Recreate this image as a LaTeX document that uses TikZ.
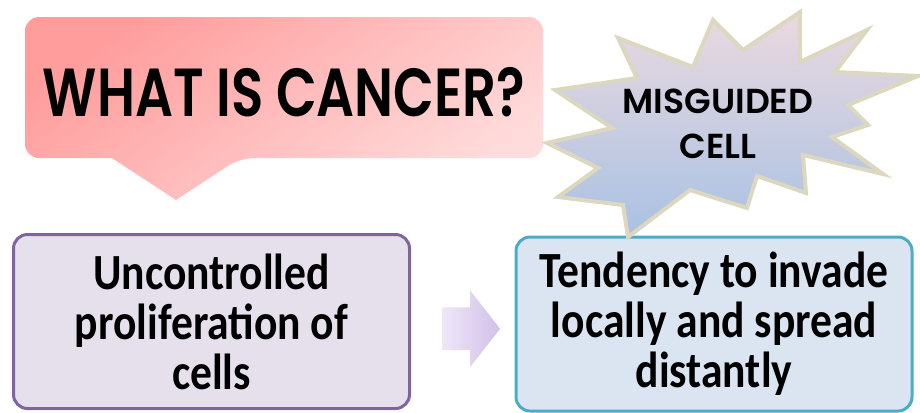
\documentclass[tikz,border=0pt]{standalone}
\usepackage{fontspec}
\setmainfont{Carlito}
\newfontfamily\gothic{Poppins}[BoldFont={* SemiBold}]
\usetikzlibrary{arrows.meta, positioning, calc, shapes.arrows}
\definecolor{pinkdk}{HTML}{FF9C9C}
\definecolor{pinklt}{HTML}{FFDCDC}
\definecolor{starrim}{HTML}{DCD7BF}
\definecolor{startop}{HTML}{EAD9E0}
\definecolor{starbot}{HTML}{A9C1E2}
\definecolor{plum}{HTML}{8064A2}
\definecolor{lilac}{HTML}{E5E0EC}
\definecolor{tealrim}{HTML}{4BACC6}
\definecolor{iceblue}{HTML}{DBE5F1}
\definecolor{arrowlt}{HTML}{EEE7F7}
\definecolor{arrowdk}{HTML}{D2C0EA}

\newdimen\pxu \pxu=0.75pt
\newcommand{\squeeze}[1]{\scalebox{0.78}[1]{#1}}
\newcommand{\narrow}[1]{\scalebox{0.86}[1]{#1}}

\begin{document}
\begin{tikzpicture}[
  x=0.75pt, y=-0.75pt,
  box/.style={rectangle, rounded corners=14\pxu, line width=3\pxu,
    minimum width=396\pxu, minimum height=174\pxu, inner sep=0pt,
    align=center, font=\bfseries\fontsize{38}{37.5}\selectfont},
  caps/.style={font=\gothic\bfseries, align=center},
]

\useasboundingbox (0,0) rectangle (920,412);

% =============================================
% Top: speech bubble with the question
% =============================================
\shade[top color=pinkdk, bottom color=pinklt, shading angle=35, rounded corners=14\pxu]
  (112,158) -- (25,158) -- (25,17) -- (543,17) -- (543,158) -- (240,158)
  [sharp corners] -- (176,200) -- cycle;
\node[caps, font=\gothic\bfseries\fontsize{51}{60}\selectfont] (title) at (284,92)
  {\squeeze{WHAT IS CANCER?}};

% =============================================
% Bottom: the two features
% =============================================
\node[box, draw=plum, fill=lilac] (prolif) at (211.5,321.5)
  {\narrow{Uncontrolled}\\\narrow{proliferation of}\\\narrow{cells}};
\node[box, draw=tealrim, fill=iceblue] (invade) at (714,324)
  {\narrow{Tendency to invade}\\\narrow{locally and spread}\\\narrow{distantly}};

% Block arrow between them
\node[single arrow, single arrow head extend=17\pxu, single arrow tip angle=104,
  minimum height=58\pxu, minimum width=76\pxu, inner xsep=0pt, inner ysep=21\pxu,
  left color=arrowlt, right color=arrowdk] (arr)
  at ($(prolif.east)!0.5!(invade.west)+(0,6)$) {};

% Starburst (drawn last, it sits on the blue box)
\shadedraw[draw=starrim, line width=4\pxu, top color=startop, bottom color=starbot]
  (800,12) -- (800,62) -- (867,30) -- (835,72) -- (918,76) -- (848,105)
  -- (868,125) -- (832,137) -- (883,174) -- (803,155) -- (806,193)
  -- (757,176) -- (747,208) -- (690,190) -- (628,237) -- (623,205)
  -- (558,197) -- (598,168) -- (547,143) -- (612,128) -- (555,90)
  -- (637,78) -- (618,38) -- (693,67) -- (713,20) -- (743,50) -- cycle;
\node[caps, font=\gothic\bfseries\fontsize{26}{34}\selectfont] (misguided) at (718,124)
  {MISGUIDED\\CELL};

\end{tikzpicture}
\end{document}
